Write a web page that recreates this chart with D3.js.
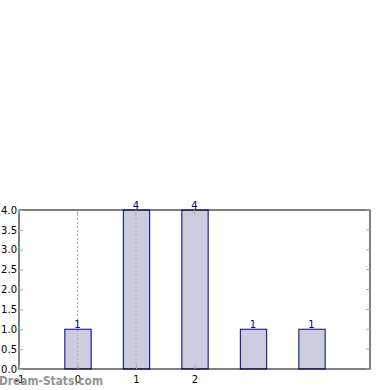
<!DOCTYPE html>
<html><head><meta charset="utf-8">
<script src="https://cdn.jsdelivr.net/npm/d3@7"></script>
<style>body{margin:0;background:#fff}svg{display:block}</style>
</head><body>
<script>
const categories = [0, 1, 2, 3, 4];
const values = [1, 4, 4, 1, 1];
const xTickValues = [-1, 0, 1, 2];
const yTickValues = [0, 0.5, 1, 1.5, 2, 2.5, 3, 3.5, 4];
const gridValues = [0, 1];

const W = 390, H = 390;
const L = 19, R = 370, T = 210, B = 369;
const svg = d3.select("body").append("svg").attr("width", W).attr("height", H);
const x = d3.scaleLinear().domain([-1, 5]).range([L, R]);
const y = d3.scaleLinear().domain([0, 4]).range([B, T]);
const font = "DejaVu Sans, sans-serif";

// bars
const bw = 0.45;
svg.append("g").selectAll("rect").data(categories).join("rect")
  .attr("x", (d) => x(d - bw / 2) + 0.5)
  .attr("y", (d, i) => y(values[i]))
  .attr("width", (d) => x(d + bw / 2) - x(d - bw / 2))
  .attr("height", (d, i) => y(0) - y(values[i]))
  .attr("fill", "#ccccdf").attr("stroke", "#000080").attr("stroke-width", 1);

// grid lines
svg.append("g").selectAll("line").data(gridValues).join("line")
  .attr("x1", d => x(d)).attr("x2", d => x(d)).attr("y1", T).attr("y2", B)
  .attr("stroke", "#aaa").attr("stroke-dasharray", "2,2").attr("stroke-width", 1).attr("opacity", 0.8);

// value labels
svg.append("g").selectAll("text").data(categories).join("text")
  .attr("x", d => x(d)).attr("y", (d, i) => y(values[i]) - 1)
  .attr("text-anchor", "middle").attr("font-family", font).attr("font-size", 10)
  .attr("fill", "#000080").text((d, i) => values[i]);

// frame
svg.append("rect").attr("x", L).attr("y", T).attr("width", R - L).attr("height", B - T)
  .attr("fill", "none").attr("stroke", "#000").attr("stroke-width", 1);

// x axis
const xAxis = d3.axisBottom(x).tickValues(xTickValues).tickFormat(d => d).tickSize(-4).tickPadding(7);
const gx = svg.append("g").attr("transform", `translate(0,${B})`).call(xAxis);
gx.select(".domain").remove();
gx.selectAll("line").attr("stroke", "#aaa");
gx.selectAll("text").attr("font-family", font).attr("font-size", 10).attr("fill", "#000");
// top ticks
svg.append("g").selectAll("line").data(xTickValues).join("line")
  .attr("x1", d => x(d)).attr("x2", d => x(d)).attr("y1", T).attr("y2", T + 4).attr("stroke", "#aaa");

// y axis
const yAxis = d3.axisLeft(y).tickValues(yTickValues).tickFormat(d3.format(".1f")).tickSize(-4).tickPadding(2);
const gy = svg.append("g").attr("transform", `translate(${L},0)`).call(yAxis);
gy.select(".domain").remove();
gy.selectAll("line").attr("stroke", "#aaa");
gy.selectAll("text").attr("font-family", font).attr("font-size", 10).attr("fill", "#000");
// right ticks
svg.append("g").selectAll("line").data(yTickValues).join("line")
  .attr("x1", R - 4).attr("x2", R).attr("y1", d => y(d)).attr("y2", d => y(d)).attr("stroke", "#aaa");

// watermark
svg.append("text").attr("x", -1).attr("y", 385).attr("font-family", font)
  .attr("font-size", 12).attr("font-weight", 600).attr("fill", "#888").attr("opacity", 0.9)
  .attr("textLength", 104).attr("lengthAdjust", "spacingAndGlyphs")
  .text("Dream-Stats.com");
</script>
</body></html>
